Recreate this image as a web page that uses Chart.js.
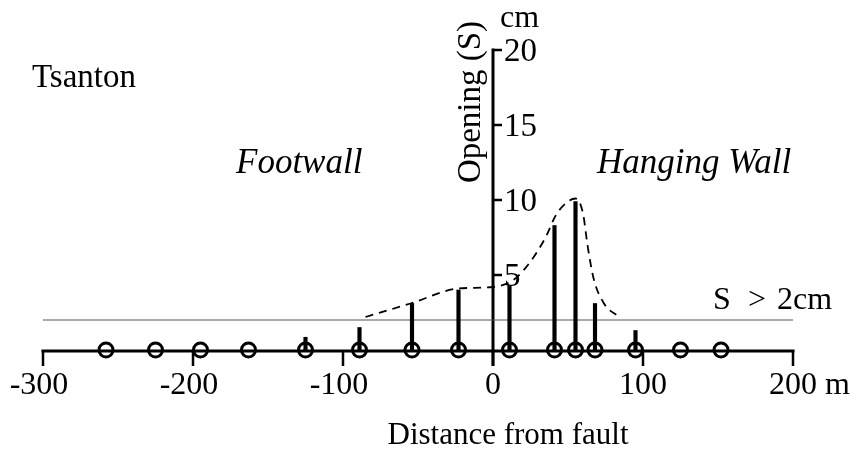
<!DOCTYPE html>
<html>
<head>
<meta charset="utf-8">
<title>Tsanton - Opening vs distance from fault</title>
<script src="https://cdn.jsdelivr.net/npm/chart.js@4.4.1/dist/chart.umd.min.js"></script>
<style>
  html, body { margin: 0; padding: 0; background: #fff; }
  #wrap { width: 852px; height: 469px; }
</style>
</head>
<body>
<div id="wrap"><canvas id="grafico" width="852" height="469"></canvas></div>
<script>
// sample sites along the profile (m from fault) and the opening measured there (cm)
const distancias = [-258, -225, -195, -163, -125, -89, -54, -23, 11, 41, 55, 68, 95, 125, 152];
const aberturas  = [0, 0, 0, 0, 0.85, 1.5, 3.1, 4.0, 4.3, 8.3, 9.9, 3.1, 1.3, 0, 0];

// dashed envelope drawn over the bars
const envolventeX = [-85, -55, -23, 0, 14, 25, 35, 42, 50, 55, 60, 63, 67, 74, 84];
const envolventeY = [2.2, 3.1, 4.1, 4.2, 4.7, 5.9, 7.5, 9.0, 9.9, 10.1, 9.1, 7.0, 4.8, 3.1, 2.2];

// threshold S > 2cm
const limiarX = [-300, 200];
const limiarY = [2, 2];

// axis ticks
const ticksX = [-300, -200, -100, 0, 100, 200];
const ticksY = [5, 10, 15, 20];

const FONTE = "'Liberation Serif', 'Times New Roman', serif";

// axes + texts, drawn with the chart scales
const eixosPlugin = {
    id: 'eixos',
    beforeDatasetsDraw(chart) {
        const ctx = chart.ctx;
        const sx = chart.scales.x, sy = chart.scales.y;
        const y0 = sy.getPixelForValue(0) + 1;
        const x0 = sx.getPixelForValue(0);
        ctx.save();
        ctx.strokeStyle = '#000';
        ctx.lineCap = 'butt';

        // horizontal axis
        ctx.lineWidth = 3.2;
        ctx.beginPath();
        ctx.moveTo(sx.getPixelForValue(-300) - 1.5, y0);
        ctx.lineTo(sx.getPixelForValue(200) + 1.5, y0);
        ctx.stroke();

        // ticks pointing down
        ctx.lineWidth = 2.5;
        ticksX.forEach(v => {
            const px = sx.getPixelForValue(v);
            ctx.beginPath();
            ctx.moveTo(px, y0 - 1);
            ctx.lineTo(px, y0 + 15);
            ctx.stroke();
        });

        // vertical axis
        ctx.lineWidth = 3;
        ctx.beginPath();
        ctx.moveTo(x0, sy.getPixelForValue(20) - 1.5);
        ctx.lineTo(x0, y0 + 15);
        ctx.stroke();

        // ticks to the right
        ctx.lineWidth = 2.5;
        ticksY.forEach(v => {
            const py = sy.getPixelForValue(v);
            ctx.beginPath();
            ctx.moveTo(x0, py);
            ctx.lineTo(x0 + 9, py);
            ctx.stroke();
        });
        ctx.restore();
    },
    afterDraw(chart) {
        const ctx = chart.ctx;
        const sx = chart.scales.x, sy = chart.scales.y;
        const y0 = sy.getPixelForValue(0);
        const x0 = sx.getPixelForValue(0);
        ctx.save();
        ctx.fillStyle = '#000';

        // x tick labels
        ctx.font = '32px ' + FONTE;
        ctx.textBaseline = 'alphabetic';
        ctx.textAlign = 'center';
        ticksX.forEach(v => {
            const px = sx.getPixelForValue(v);
            const txt = v < 0 ? '-' + Math.abs(v) : String(v);
            ctx.fillText(txt, px - (v < 0 ? 4 : 0), y0 + 44);
        });
        const w200 = ctx.measureText('200').width;
        ctx.textAlign = 'left';
        ctx.fillText(' m', sx.getPixelForValue(200) + w200 / 2, y0 + 44);

        // y tick labels
        ctx.font = '33px ' + FONTE;
        ctx.textAlign = 'left';
        ctx.textBaseline = 'middle';
        ticksY.forEach(v => {
            ctx.fillText(String(v), x0 + 11, sy.getPixelForValue(v) + 2);
        });
        ctx.font = '32px ' + FONTE;
        ctx.textBaseline = 'alphabetic';
        ctx.fillText('cm', x0 + 7, 27);

        // y axis title, rotated
        ctx.save();
        ctx.font = '33px ' + FONTE;
        ctx.translate(x0 - 22, 102);
        ctx.rotate(-Math.PI / 2);
        ctx.textAlign = 'center';
        ctx.textBaseline = 'middle';
        ctx.fillText('Opening (S)', 0, 0);
        ctx.restore();

        // x axis title
        ctx.font = '31px ' + FONTE;
        ctx.textAlign = 'center';
        ctx.fillText('Distance from fault', 508, 444);

        // labels
        ctx.font = '33px ' + FONTE;
        ctx.textAlign = 'left';
        ctx.fillText('Tsanton', 32, 87);
        ctx.font = '32px ' + FONTE;
        ctx.fillText('S', 713, 309);
        ctx.textAlign = 'center';
        ctx.fillText('>', 757, 309);
        ctx.textAlign = 'left';
        ctx.fillText('2cm', 777, 309);
        ctx.font = 'italic 35px ' + FONTE;
        ctx.fillText('Footwall', 236, 173);
        ctx.fillText('Hanging Wall', 597, 173);
        ctx.restore();
    }
};

const barras = distancias
    .map((d, i) => ({ x: d, y: aberturas[i] }))
    .filter(p => p.y > 0);

new Chart(document.getElementById('grafico'), {
    data: {
        datasets: [
            {
                type: 'line',
                data: limiarX.map((x, i) => ({ x: x, y: limiarY[i] })),
                borderColor: '#555',
                borderWidth: 1,
                pointRadius: 0,
                order: 4
            },
            {
                type: 'bar',
                data: barras,
                backgroundColor: '#000',
                barThickness: 3.5,
                order: 3
            },
            {
                type: 'line',
                data: envolventeX.map((x, i) => ({ x: x, y: envolventeY[i] })),
                borderColor: '#000',
                borderWidth: 1.8,
                borderDash: [8, 6],
                cubicInterpolationMode: 'monotone',
                pointRadius: 0,
                order: 2
            },
            {
                type: 'scatter',
                data: distancias.map(d => ({ x: d, y: 0 })),
                pointRadius: 7,
                pointBorderWidth: 3,
                borderColor: '#000',
                backgroundColor: 'rgba(0,0,0,0)',
                clip: false,
                order: 1
            }
        ]
    },
    options: {
        responsive: false,
        animation: false,
        layout: { autoPadding: false, padding: { left: 43, right: 59, top: 50, bottom: 119 } },
        scales: {
            x: { type: 'linear', min: -300, max: 200, offset: false, display: false },
            y: { type: 'linear', min: 0, max: 20, display: false }
        },
        plugins: {
            legend: { display: false },
            tooltip: { enabled: false }
        }
    },
    plugins: [eixosPlugin]
});
</script>
</body>
</html>
